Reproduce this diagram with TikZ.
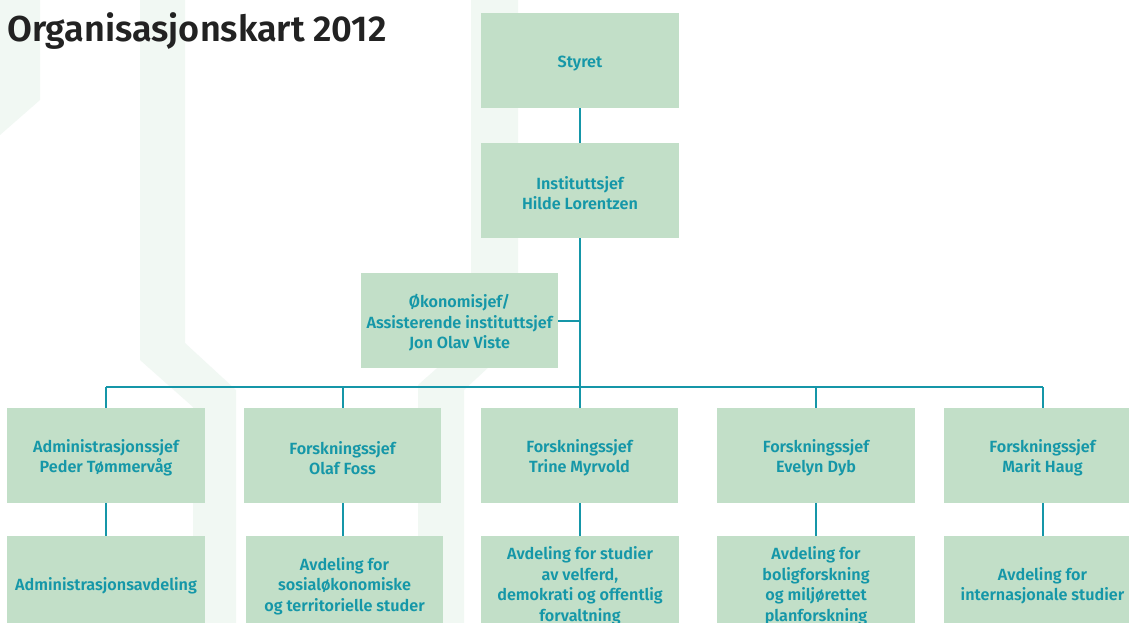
\documentclass[tikz,border=0pt]{standalone}
\usepackage{fontspec}
\setmainfont{Fira Sans}
\newfontfamily\boxfam{Fira Sans SemiBold}
\newfontfamily\titlefam{Fira Sans SemiBold}
\definecolor{boxgreen}{HTML}{C2DFC8}
\definecolor{tealtext}{HTML}{1597A8}
\definecolor{tealline}{HTML}{1596A8}
\definecolor{wmark}{HTML}{F1F8F3}
\definecolor{titlegray}{HTML}{222222}
\newcommand\tstrut{\rule{0pt}{18pt}}
\tikzset{
  orgbox/.style={fill=boxgreen, minimum width=197.5pt, minimum height=95pt, inner sep=0pt,
    text=tealtext, align=center, font=\boxfam\fontsize{16.2}{20.5}\selectfont},
  conn/.style={draw=tealline, line width=2pt},
  wm/.style={fill=wmark, draw=none}
}
\begin{document}
\begin{tikzpicture}[x=1pt,y=-1pt]
\useasboundingbox (0,0) rectangle (1129,623);
\clip (0,0) rectangle (1129,623);
\fill[white] (0,0) rectangle (1129,623);
% watermark
\fill[wm] (0,0) -- (40,0) -- (40,100) -- (0,135) -- cycle;
\fill[wm] (140,0) -- (185,0) -- (185,343) -- (236,390) -- (236,623) -- (193,623) -- (193,407) -- (140,360) -- cycle;
\fill[wm] (471,0) -- (518,0) -- (518,340) -- (464,390) -- (464,623) -- (418,623) -- (418,385) -- (471,338) -- cycle;
% title
\node[anchor=west, inner sep=0pt, text=titlegray, font=\titlefam\fontsize{36}{40}\selectfont] (title) at (7,31.5) {Organisasjonskart 2012};
% top boxes
\node[orgbox] (styret) at (580,60.5) {\tstrut Styret};
\node[orgbox] (inst) at (580,190.5) {\tstrut Instituttsjef\\Hilde Lorentzen};
\node[orgbox] (oko) at (459.5,320.5) {\tstrut Økonomisjef/\\Assisterende instituttsjef\\Jon Olav Viste};
\coordinate (bus) at (580,387);
% row 2
\node[orgbox] (a2) at (106,455.5) {\tstrut Administrasjonssjef\\Peder Tømmervåg};
\node[orgbox] (b2) at (342.5,455.5) {\tstrut Forskningssjef\\Olaf Foss};
\node[orgbox] (c2) at (579.5,455.5) {\tstrut Forskningssjef\\Trine Myrvold};
\node[orgbox] (d2) at (816,455.5) {\tstrut Forskningssjef\\Evelyn Dyb};
\node[orgbox] (e2) at (1042.5,455.5) {\tstrut Forskningssjef\\Marit Haug};
% row 3
\node[orgbox] (a3) at (106,583.5) {\tstrut Administrasjonsavdeling};
\node[orgbox] (b3) at (344.5,583.5) {\tstrut Avdeling for\\sosialøkonomiske\\og territorielle studer};
\node[orgbox] (c3) at (580,583.5) {\tstrut Avdeling for studier\\av velferd,\\demokrati og offentlig\\forvaltning};
\node[orgbox] (d3) at (816,583.5) {\tstrut Avdeling for\\boligforskning\\og miljørettet\\planforskning};
\node[orgbox] (e3) at (1042.5,583.5) {\tstrut Avdeling for\\internasjonale studier};
% connectors
\draw[conn] (styret) -- (inst);
\draw[conn] (inst) -- (bus);
\draw[conn] (oko.east) -- (oko.east -| inst.south);
\draw[conn] (a2.north |- bus) -- (e2.north |- bus);
\foreach \n in {a2,b2,c2,d2,e2} \draw[conn] (\n.north) -- (\n.north |- bus);
\foreach \n in {a,b,c,d,e} \draw[conn] (\n2.south) -- (\n2.south |- \n3.north);
\end{tikzpicture}
\end{document}
